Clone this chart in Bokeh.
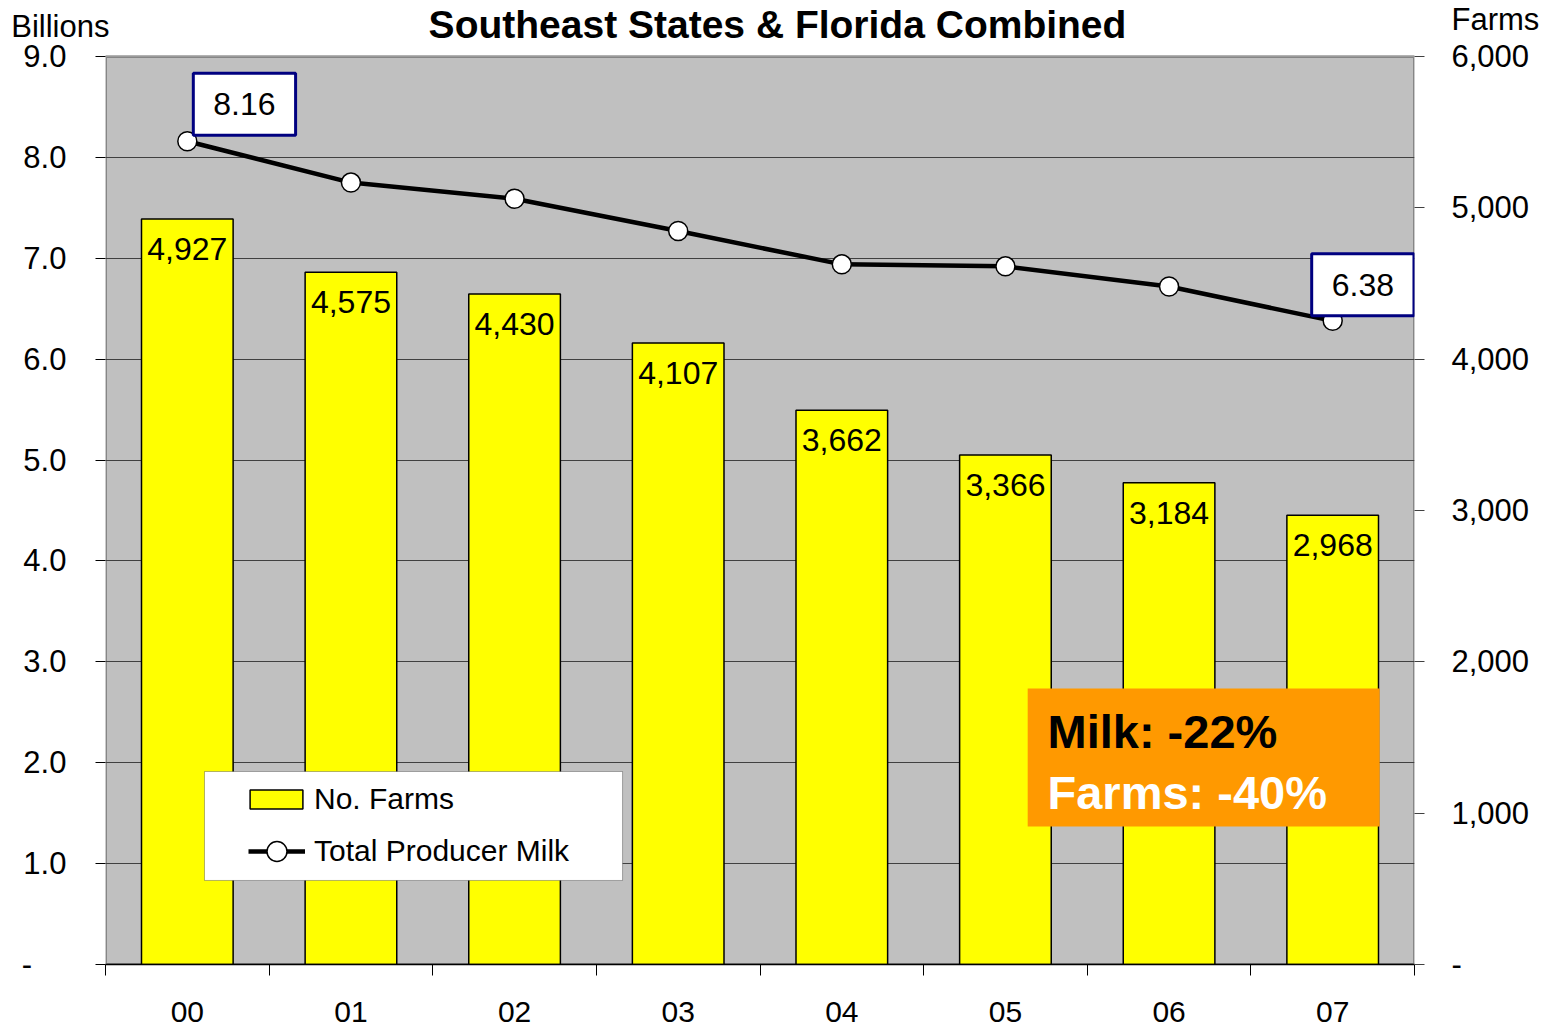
from bokeh.plotting import figure
from bokeh.models import (Range1d, LinearAxis, FixedTicker, Label, BoxAnnotation,
                          Legend, LegendItem, ColumnDataSource)
from bokeh.embed import file_html
from bokeh.resources import INLINE
from bokeh.core.properties import value

# ---------------- data ----------------
years = ["00", "01", "02", "03", "04", "05", "06", "07"]
farms = [4927, 4575, 4430, 4107, 3662, 3366, 3184, 2968]
milk = [8.16, 7.75, 7.59, 7.27, 6.94, 6.92, 6.72, 6.38]

left_ticks = [0, 1, 2, 3, 4, 5, 6, 7, 8, 9]
left_tick_labels = ["-", "1.0", "2.0", "3.0", "4.0", "5.0", "6.0", "7.0", "8.0", "9.0"]
right_ticks = [0, 1000, 2000, 3000, 4000, 5000, 6000]
right_tick_labels = ["-", "1,000", "2,000", "3,000", "4,000", "5,000", "6,000"]

title_text = "Southeast States & Florida Combined"
left_axis_title = "Billions"
right_axis_title = "Farms"
summary_lines = ["Milk: -22%", "Farms: -40%"]
legend_labels = ["No. Farms", "Total Producer Milk"]

FONT = "Liberation Sans"
W, H = 1561, 1026
FL, FR, FT, FB = 105, 1414, 56, 964     # plot-area edges in page pixels
LEFT_MAX, RIGHT_MAX = 9, 6000
NBSP = "\u00a0"

xc = [i + 0.5 for i in range(len(years))]
farm_labels = [f"{v:,}" for v in farms]
src = ColumnDataSource(dict(x=xc, farms=farms, milk=milk, flab=farm_labels))

# the frame runs to the top of the canvas so the headings can live inside it
ext = FB / (FB - FT)
px_left = (FB - FT) / LEFT_MAX            # pixels per billion
def y_left(py):                            # page pixel row -> left-axis value
    return (FB - py) / px_left
def y_right(py):
    return (FB - py) / (FB - FT) * RIGHT_MAX

p = figure(width=W, height=H,
           x_range=Range1d(0, len(years)), y_range=Range1d(0, LEFT_MAX * ext),
           output_backend="svg", toolbar_location=None,
           min_border_left=FL, min_border_right=W - FR,
           min_border_top=0, min_border_bottom=H - FB,
           background_fill_color="white", border_fill_color="white")
p.extra_y_ranges = {"farms": Range1d(0, RIGHT_MAX * ext)}
p.outline_line_color = None

# gray plot area
p.add_layout(BoxAnnotation(left=0, right=len(years), bottom=0, top=LEFT_MAX,
                           fill_color="#C0C0C0", fill_alpha=1,
                           line_color="black", line_width=3, level="image"))

p.xgrid.grid_line_color = None
p.ygrid.grid_line_color = "#404040"
p.ygrid.grid_line_width = 1
p.ygrid.ticker = FixedTicker(ticks=left_ticks[1:-1])

# x axis
xa = p.xaxis[0]
xa.ticker = FixedTicker(ticks=xc, minor_ticks=list(range(len(years) + 1)))
xa.major_label_overrides = {xc[i]: years[i] for i in range(len(years))}
xa.major_tick_out = 0
xa.major_tick_in = 0
xa.minor_tick_out = 11
xa.minor_tick_in = 0
xa.minor_tick_line_color = "black"
xa.minor_tick_line_width = 1
xa.axis_line_color = "black"
xa.axis_line_width = 1.5
xa.major_label_standoff = 26
xa.major_label_text_font = FONT
xa.major_label_text_font_size = "30px"
xa.major_label_text_color = "black"

# left axis: numeric labels padded so that "Billions" can sit above them
billions_y = y_left(25.5)
ya = p.yaxis[0]
ya.ticker = FixedTicker(ticks=left_ticks + [billions_y], minor_ticks=left_ticks)
lab = {left_ticks[i]: left_tick_labels[i] + NBSP * (9 if i == 0 else 5)
       for i in range(len(left_ticks))}
lab[billions_y] = left_axis_title
ya.major_label_overrides = lab
ya.major_tick_out = 10
ya.major_tick_in = 0
ya.major_tick_line_color = None
ya.minor_tick_out = 10
ya.minor_tick_in = 0
ya.minor_tick_line_color = "black"
ya.minor_tick_line_width = 1
ya.axis_line_color = None
ya.major_label_standoff = -14
ya.major_label_text_font = FONT
ya.major_label_text_font_size = "31px"
ya.major_label_text_color = "black"

# right axis with "Farms" heading
farms_y = y_right(18.5)
ra = LinearAxis(y_range_name="farms",
                ticker=FixedTicker(ticks=right_ticks + [farms_y], minor_ticks=right_ticks))
rlab = {right_ticks[i]: right_tick_labels[i] for i in range(len(right_ticks))}
rlab[farms_y] = right_axis_title
ra.major_label_overrides = rlab
ra.major_tick_out = 10
ra.major_tick_in = 0
ra.major_tick_line_color = None
ra.minor_tick_out = 10
ra.minor_tick_in = 0
ra.minor_tick_line_color = "#404040"
ra.minor_tick_line_width = 1
ra.axis_line_color = None
ra.major_label_standoff = 27
ra.major_label_text_font = FONT
ra.major_label_text_font_size = "31px"
ra.major_label_text_color = "black"
p.add_layout(ra, "right")

# title inside the (extended) frame
p.add_layout(Label(x=(777 - FL) / ((FR - FL) / len(years)), y=y_left(24), text=title_text,
                   text_font=FONT, text_font_size="39px", text_font_style="bold",
                   text_color="black", text_align="center", text_baseline="middle"))

# bars + value labels
bars = p.vbar(x="x", top="farms", bottom=0, width=0.56, source=src, y_range_name="farms",
              fill_color="#FFFF00", line_color="black", line_width=1.5)
p.text(x="x", y="farms", text="flab", source=src, y_range_name="farms",
       text_align="center", text_baseline="middle", y_offset=30,
       text_font=value(FONT), text_font_size="32px", text_color="black")

# milk line
ln = p.line(x="x", y="milk", source=src, line_color="black", line_width=4.5)
sc = p.scatter(x="x", y="milk", source=src, size=19, marker="circle",
               fill_color="white", line_color="black", line_width=1.5)

# callouts for first and last milk values
box_style = dict(background_fill_color="white", border_line_color="#000080",
                 border_line_width=3, text_font=FONT, text_font_size="32px",
                 text_color="black", padding=dict(left=20, right=20, top=20, bottom=20),
                 anchor="bottom_left")
p.add_layout(Label(x=xc[0], y=milk[0], text=f"{milk[0]:.2f}", x_offset=6, y_offset=6, **box_style))
p.add_layout(Label(x=xc[-1], y=milk[-1], text=f"{milk[-1]:.2f}", x_offset=-21, y_offset=5, **box_style))

# orange summary box
p.add_layout(BoxAnnotation(left=5.636, right=7.787, bottom=1.368, top=2.735,
                           fill_color="#FF9900", fill_alpha=1, line_color=None))
p.add_layout(Label(x=5.757, y=2.309, text=summary_lines[0], text_font=FONT,
                   text_font_size="47px", text_font_style="bold", text_color="black",
                   text_baseline="middle", text_align="left"))
p.add_layout(Label(x=5.757, y=1.705, text=summary_lines[1], text_font=FONT,
                   text_font_size="47px", text_font_style="bold", text_color="white",
                   text_baseline="middle", text_align="left"))

# legend frame and two legends
p.add_layout(BoxAnnotation(left=0.605, right=3.160, bottom=0.833, top=1.913,
                           fill_color="white", fill_alpha=1, line_color="black",
                           line_width=1))
common = dict(orientation="vertical", padding=0, margin=0, spacing=0,
              label_text_font=FONT, label_text_font_size="30px",
              label_text_color="black", label_height=30,
              background_fill_alpha=0, border_line_alpha=0)
leg1 = Legend(items=[LegendItem(label=legend_labels[0], renderers=[bars])],
              location=(138, 148), glyph_width=66, glyph_height=24,
              label_standoff=5, **common)
leg2 = Legend(items=[LegendItem(label=legend_labels[1], renderers=[ln, sc])],
              location=(143, 88), glyph_width=57, glyph_height=50,
              label_standoff=9, **common)
p.add_layout(leg1, "center")
p.add_layout(leg2, "center")

open("out.html", "w").write(file_html(p, INLINE))
